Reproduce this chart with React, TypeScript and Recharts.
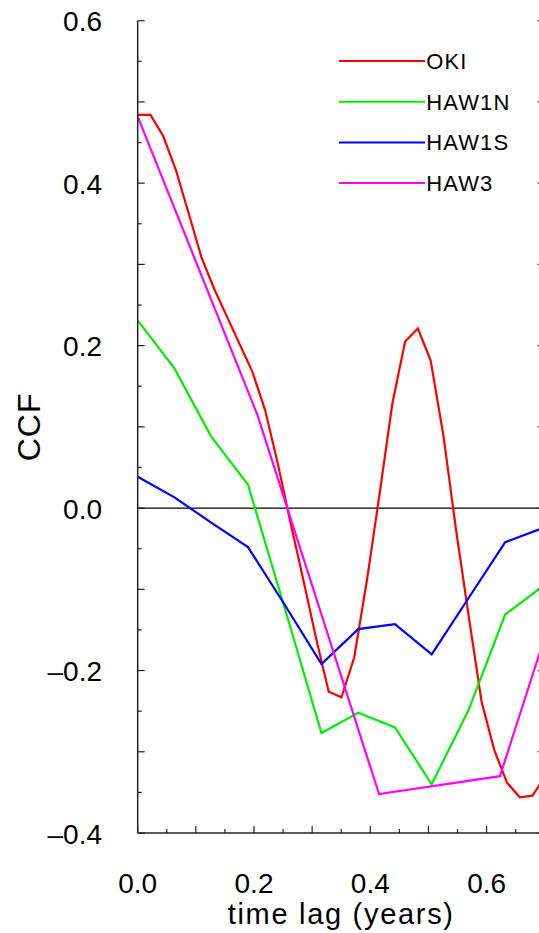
import { LineChart, Line, XAxis, YAxis, ReferenceLine, Legend, Label } from "recharts";

// OKI: 8-day lags
const okiLag = [0, 0.0219, 0.0438, 0.0657, 0.0876, 0.1095, 0.1314, 0.1533, 0.1752, 0.1971, 0.219, 0.2409, 0.2628, 0.2847, 0.3066, 0.3285, 0.3504, 0.3723, 0.3942, 0.4161, 0.438, 0.4599, 0.4818, 0.5037, 0.5256, 0.5475, 0.5694, 0.5913, 0.6132, 0.6351, 0.657, 0.6789, 0.7008];
const okiCcf = [0.484, 0.484, 0.458, 0.416, 0.363, 0.309, 0.27, 0.236, 0.202, 0.168, 0.121, 0.055, -0.018, -0.088, -0.16, -0.226, -0.233, -0.184, -0.089, 0.018, 0.129, 0.205, 0.221, 0.182, 0.09, -0.027, -0.134, -0.238, -0.298, -0.338, -0.356, -0.354, -0.33];

// HAW1N / HAW1S share lags
const hawLag = [0, 0.0632, 0.1264, 0.1896, 0.2528, 0.316, 0.3792, 0.4424, 0.5056, 0.5688, 0.632, 0.6952];
const haw1nCcf = [0.231, 0.172, 0.088, 0.029, -0.123, -0.277, -0.252, -0.27, -0.34, -0.249, -0.131, -0.097];
const haw1sCcf = [0.0385, 0.0132, -0.018, -0.048, -0.119, -0.192, -0.149, -0.143, -0.18, -0.111, -0.042, -0.025];

const haw3Lag = [0, 0.206, 0.415, 0.623, 0.83];
const haw3Ccf = [0.482, 0.1145, -0.352, -0.33, 0.13];

const seriesNames = ["OKI", "HAW1N", "HAW1S", "HAW3"];
const xTicks = [0, 0.05, 0.1, 0.15, 0.2, 0.25, 0.3, 0.35, 0.4, 0.45, 0.5, 0.55, 0.6, 0.65, 0.7];
const yTicks = [-0.4, -0.35, -0.3, -0.25, -0.2, -0.15, -0.1, -0.05, 0, 0.05, 0.1, 0.15, 0.2, 0.25, 0.3, 0.35, 0.4, 0.45, 0.5, 0.55, 0.6];

const FONT = '"Liberation Sans", Arial, Helvetica, sans-serif';
const AX = "#222";

const pts = (xs: number[], ys: number[]) => xs.map((x, i) => ({ x, y: ys[i] }));
const isMult = (v: number, step: number) => Math.abs(Math.round(v / step) * step - v) < 1e-6;
const fmt = (v: number) => (Math.abs(v) < 1e-9 ? "0.0" : v < 0 ? "\u2013" + Math.abs(v).toFixed(1) : v.toFixed(1));
const tickLen = (v: number) => (isMult(v, 0.1) ? 7 : 4);

const BottomTick = (p: any) => {
  const v = p.payload.value;
  return (
    <g>
      <line x1={p.x} x2={p.x} y1={p.y} y2={p.y - tickLen(v)} stroke={AX} strokeWidth={1.2} />
      {isMult(v, 0.2) && (
        <text x={p.x} y={p.y + 60} textAnchor="middle" fontSize={28} fontFamily={FONT} fill="#000">
          {fmt(v)}
        </text>
      )}
    </g>
  );
};
const TopTick = (p: any) => (
  <line x1={p.x} x2={p.x} y1={p.y} y2={p.y + tickLen(p.payload.value)} stroke={AX} strokeWidth={1.2} />
);
const LeftTick = (p: any) => {
  const v = p.payload.value;
  return (
    <g>
      <line x1={p.x} x2={p.x + tickLen(v)} y1={p.y} y2={p.y} stroke={AX} strokeWidth={1.2} />
      {isMult(v, 0.2) && (
        <text x={p.x - 35.7} y={p.y + 10.5} textAnchor="end" fontSize={28} fontFamily={FONT} fill="#000">
          {fmt(v)}
        </text>
      )}
    </g>
  );
};
const RightTick = (p: any) => (
  <line x1={p.x} x2={p.x - tickLen(p.payload.value)} y1={p.y} y2={p.y} stroke={AX} strokeWidth={1.2} />
);

const LegendBox = (props: any) => {
  const items = [...(props.payload || [])].sort(
    (a: any, b: any) => seriesNames.indexOf(a.value) - seriesNames.indexOf(b.value)
  );
  return (
    <svg width={200} height={170} style={{ overflow: "visible" }}>
      {items.map((e: any, i: number) => (
        <g key={e.value}>
          <line x1={0} x2={86} y1={21 + i * 40.7} y2={21 + i * 40.7} stroke={e.color} strokeWidth={2} />
          <text x={87.3} y={28.8 + i * 40.7} fontSize={22} letterSpacing={1.1} fontFamily={FONT} fill="#000">
            {e.value}
          </text>
        </g>
      ))}
    </svg>
  );
};

export default function App() {
  return (
    <div style={{ position: "fixed", left: 0, top: 0, width: 539, height: 933, overflow: "hidden", background: "#fff" }}>
      <LineChart width={560} height={933} margin={{ top: 20.7, left: 77.7, right: 5.25, bottom: 0 }}>
        <XAxis
          xAxisId="b"
          type="number"
          dataKey="x"
          domain={[0, 0.7]}
          ticks={xTicks}
          allowDataOverflow
          height={100}
          tickSize={0}
          tickMargin={0}
          tick={BottomTick}
          axisLine={{ stroke: AX, strokeWidth: 1.5 }}
          tickLine={false}
          interval={0}
        >
          <Label
            content={(lp: any) => {
              const vb = lp.viewBox;
              return (
                <text x={vb.x + vb.width / 2} y={924} textAnchor="middle" fontSize={29} letterSpacing={1.7} fontFamily={FONT} fill="#000">
                  time lag (years)
                </text>
              );
            }}
          />
        </XAxis>
        <XAxis
          xAxisId="t"
          orientation="top"
          type="number"
          domain={[0, 0.7]}
          ticks={xTicks}
          allowDataOverflow
          height={0}
          tickSize={0}
          tickMargin={0}
          tick={TopTick}
          axisLine={{ stroke: AX, strokeWidth: 1.5 }}
          tickLine={false}
          interval={0}
        />
        <YAxis
          yAxisId="l"
          type="number"
          domain={[-0.4, 0.6]}
          ticks={yTicks}
          allowDataOverflow
          width={60}
          tickSize={0}
          tickMargin={0}
          tick={LeftTick}
          axisLine={{ stroke: AX, strokeWidth: 1.5 }}
          tickLine={false}
          interval={0}
        >
          <Label
            content={(lp: any) => {
              const vb = lp.viewBox;
              const cy = vb.y + vb.height / 2;
              return (
                <text x={40} y={cy} transform={`rotate(-90 40 ${cy})`} textAnchor="middle" fontSize={32} letterSpacing={1} fontFamily={FONT} fill="#000">
                  CCF
                </text>
              );
            }}
          />
        </YAxis>
        <YAxis
          yAxisId="r"
          orientation="right"
          type="number"
          domain={[-0.4, 0.6]}
          ticks={yTicks}
          allowDataOverflow
          width={10}
          tickSize={0}
          tickMargin={0}
          tick={RightTick}
          axisLine={{ stroke: AX, strokeWidth: 1.5 }}
          tickLine={false}
          interval={0}
        />
        <ReferenceLine xAxisId="b" yAxisId="l" y={0} stroke="#000" strokeWidth={1.2} />
        <Legend
          layout="vertical"
          align="center"
          verticalAlign="middle"
          content={LegendBox}
          wrapperStyle={{ position: "absolute", left: 339, top: 40, width: 200, height: 170 }}
        />
        <Line xAxisId="b" yAxisId="l" name="OKI" data={pts(okiLag, okiCcf)} dataKey="y" stroke="#ff0000" strokeWidth={2.2} dot={false} isAnimationActive={false} />
        <Line xAxisId="b" yAxisId="l" name="HAW1N" data={pts(hawLag, haw1nCcf)} dataKey="y" stroke="#00ee00" strokeWidth={2.2} dot={false} isAnimationActive={false} />
        <Line xAxisId="b" yAxisId="l" name="HAW1S" data={pts(hawLag, haw1sCcf)} dataKey="y" stroke="#0000ff" strokeWidth={2.2} dot={false} isAnimationActive={false} />
        <Line xAxisId="b" yAxisId="l" name="HAW3" data={pts(haw3Lag, haw3Ccf)} dataKey="y" stroke="#ff00ff" strokeWidth={2.2} dot={false} isAnimationActive={false} />
      </LineChart>
    </div>
  );
}
